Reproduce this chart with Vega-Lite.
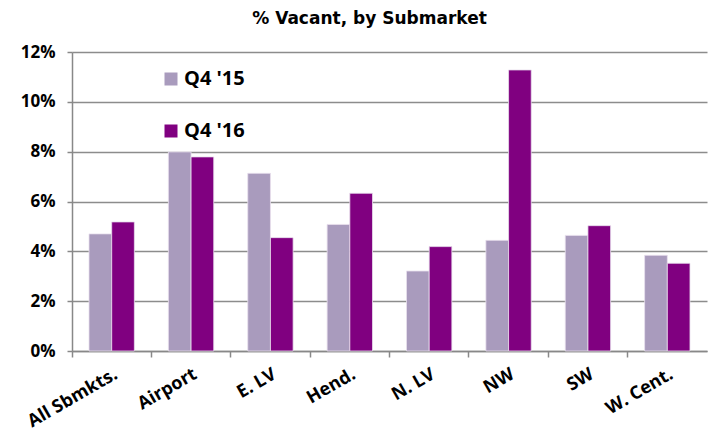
{
  "$schema": "https://vega.github.io/schema/vega-lite/v6.json",
  "autosize": "none",
  "width": 635,
  "height": 299,
  "padding": {"left": 72, "top": 52, "right": 4, "bottom": 80},
  "background": "white",
  "title": {"text": "% Vacant, by Submarket", "fontSize": 17, "font": "DejaVu Sans", "fontWeight": "bold", "color": "#000000", "anchor": "middle", "dx": -20, "offset": 15},
  "data": {"values": [
    {"submarket": "All Sbmkts.", "period": "Q4 '15", "vacant": 0.0470},
    {"submarket": "All Sbmkts.", "period": "Q4 '16", "vacant": 0.0518},
    {"submarket": "Airport", "period": "Q4 '15", "vacant": 0.0799},
    {"submarket": "Airport", "period": "Q4 '16", "vacant": 0.0779},
    {"submarket": "E. LV", "period": "Q4 '15", "vacant": 0.0713},
    {"submarket": "E. LV", "period": "Q4 '16", "vacant": 0.0455},
    {"submarket": "Hend.", "period": "Q4 '15", "vacant": 0.0508},
    {"submarket": "Hend.", "period": "Q4 '16", "vacant": 0.0633},
    {"submarket": "N. LV", "period": "Q4 '15", "vacant": 0.0321},
    {"submarket": "N. LV", "period": "Q4 '16", "vacant": 0.0419},
    {"submarket": "NW", "period": "Q4 '15", "vacant": 0.0444},
    {"submarket": "NW", "period": "Q4 '16", "vacant": 0.1128},
    {"submarket": "SW", "period": "Q4 '15", "vacant": 0.0464},
    {"submarket": "SW", "period": "Q4 '16", "vacant": 0.0503},
    {"submarket": "W. Cent.", "period": "Q4 '15", "vacant": 0.0384},
    {"submarket": "W. Cent.", "period": "Q4 '16", "vacant": 0.0352}
  ]},
  "mark": {"type": "bar", "stroke": "#e8e0ee", "strokeWidth": 0.8},
  "encoding": {
    "x": {
      "field": "submarket", "type": "nominal", "sort": null, "title": null,
      "scale": {"paddingInner": 0, "paddingOuter": 0},
      "axis": {"bandPosition": 0, "labelAngle": -30, "labelFont": "Open Sans", "labelFontWeight": "bold", "labelFontSize": 18, "labelColor": "#000000", "labelPadding": 8, "domainColor": "#888888", "domainWidth": 1.5, "tickColor": "#888888", "tickWidth": 1.5, "tickSize": 6, "grid": false}
    },
    "xOffset": {"field": "period", "type": "nominal", "scale": {"paddingInner": 0, "paddingOuter": 0.75}},
    "y": {
      "field": "vacant", "type": "quantitative", "title": null,
      "scale": {"domain": [0, 0.12], "nice": false},
      "axis": {"values": [0, 0.02, 0.04, 0.06, 0.08, 0.1, 0.12], "format": ".0%", "labelFont": "Open Sans", "labelFontWeight": "bold", "labelFontSize": 17, "labelColor": "#000000", "labelPadding": 12, "domainColor": "#888888", "domainWidth": 1.5, "tickColor": "#888888", "tickWidth": 1.5, "tickSize": 5, "grid": true, "gridColor": "#8c8c8c", "gridWidth": 1.5}
    },
    "color": {
      "field": "period", "type": "nominal", "title": null,
      "scale": {"domain": ["Q4 '15", "Q4 '16"], "range": ["#A99BBD", "#800080"]},
      "legend": {"orient": "none", "legendX": 89, "legendY": 17, "symbolType": "square", "symbolSize": 169, "symbolStrokeWidth": 0, "labelFont": "Open Sans", "labelFontWeight": "bold", "labelFontSize": 20, "labelColor": "#000000", "rowPadding": 32, "labelOffset": 3}
    }
  },
  "config": {"view": {"stroke": null}}
}
